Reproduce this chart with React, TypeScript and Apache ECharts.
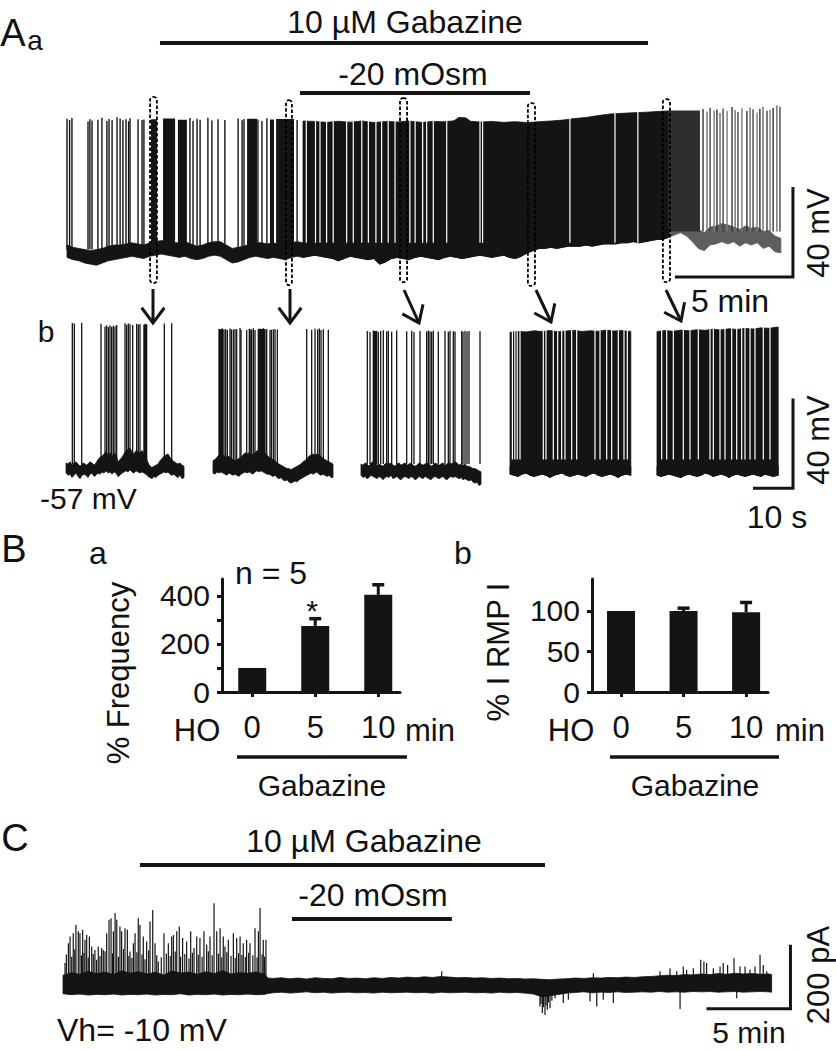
import React, { useEffect, useRef } from "react";
import * as echarts from "echarts";

const FONT = "'Liberation Sans', Arial, Helvetica, sans-serif";
const INK = "#141414";
const GRAY = "#5e5e5e";

// ---------------- Panel A a : current clamp, time (min) vs Vm (mV) ----------------
// [t, lower edge, upper edge] of baseline noise
const AA_BASE: number[][] = [
  [0, -57.5, -52], [0.25, -58.5, -53], [0.5, -59, -53.5], [0.75, -60, -54], [1, -60.5, -54.5], [1.25, -61, -54],
  [1.5, -60, -53.5], [1.75, -59, -52.5], [2, -58.5, -52], [2.25, -58, -52], [2.5, -57.5, -51.5], [2.75, -57, -51],
  [3, -57.5, -51.5], [3.25, -58, -52], [3.5, -57, -51], [3.75, -56.5, -50.5], [4, -56, -50], [4.25, -56.5, -50.5],
  [4.5, -57, -51], [4.75, -57.5, -51], [5, -57, -50.5], [5.25, -58, -51.5], [5.5, -58.5, -52.5], [5.75, -58, -52],
  [6, -57, -51], [6.25, -56.5, -50.5], [6.5, -57, -50.5], [6.75, -58.5, -52], [7, -60, -53.5], [7.25, -59.5, -53],
  [7.5, -58.5, -52.5], [7.75, -57.5, -51.5], [8, -57, -51], [8.25, -57.5, -51], [8.5, -58, -51.5], [8.75, -57.5, -51],
  [9, -58, -52], [9.25, -58.5, -52], [9.5, -57.5, -51], [9.75, -57, -50.5], [10, -57.5, -51], [10.25, -57, -50.5],
  [10.5, -56.5, -50], [10.75, -57, -50.5], [11, -57.5, -51], [11.25, -58, -51.5], [11.5, -59, -52], [11.75, -58, -51.5],
  [12, -57, -50.5], [12.25, -57.5, -51], [12.5, -58, -51.5], [12.75, -58.5, -52], [13, -58, -51.5], [13.25, -60.5, -53],
  [13.5, -59.5, -52.5], [13.75, -58, -51.5], [14, -57.5, -51], [14.25, -58, -51.5], [14.5, -58.5, -52], [14.75, -57.5, -51],
  [15, -57, -50.5], [15.25, -57.5, -51], [15.5, -58, -51.5], [15.75, -58.5, -52], [16, -57.5, -51], [16.25, -57, -50.5],
  [16.5, -57.5, -51], [16.75, -58, -51.5], [17, -57.5, -51], [17.25, -57, -51], [17.5, -56.5, -50], [17.75, -57, -50.5],
  [18, -57.5, -51], [18.25, -57, -50.5], [18.5, -56.5, -50], [18.75, -57.5, -51], [19, -58, -51.5], [19.25, -57, -50.5],
  [19.5, -55.5, -50], [19.75, -54.5, -49], [20, -53.5, -48], [20.25, -53.5, -48.5], [20.5, -53, -48], [20.75, -53.5, -48.5],
  [21, -53, -48], [21.25, -52.5, -47.5], [21.5, -52.5, -47.5], [21.75, -52.5, -47.5], [22, -52, -47], [22.25, -52.5, -47.5],
  [22.5, -52, -47], [22.75, -51.5, -46.5], [23, -51.5, -46.5], [23.25, -51.5, -46.5], [23.5, -51, -46], [23.75, -51, -46],
  [24, -50.5, -45.5], [24.25, -51, -46], [24.5, -50.5, -45.5], [24.75, -50, -45], [25, -49.5, -44.5], [25.25, -49.5, -44.5],
  [25.5, -48.5, -44], [25.75, -47.5, -41], [26, -46.5, -40], [26.25, -48, -41.5], [26.5, -50.5, -43], [26.75, -53.5, -45],
  [27, -54.5, -46.5], [27.25, -52, -44], [27.5, -51.5, -43.5], [27.75, -50.5, -42.5], [28, -51.5, -43], [28.25, -50.5, -44],
  [28.5, -52.5, -45], [28.75, -51, -43.5], [29, -52, -44.5], [29.25, -51, -44], [29.5, -53.5, -46], [29.75, -52.5, -45.5],
  [30, -55, -48], [30.25, -55.5, -49],
];
// isolated action potentials [t, peak]
const AA_SPIKES: number[][] = [
  [0.0, 4.2], [0.11, 3.6], [0.21, 4.5], [0.89, 3.0], [0.97, 4.0], [1.06, 3.4], [1.31, 3.8], [1.48, 4.6],
  [1.69, 3.2], [1.78, 4.1], [1.91, 3.7], [2.12, 4.9], [2.25, 4.3], [2.37, 3.5], [2.5, 4.0], [2.61, 3.1],
  [2.67, 4.4], [3.01, 4.0], [3.18, 3.6], [3.26, 3.9], [5.21, 4.5], [5.34, 3.3], [5.51, 4.2], [5.64, 3.8],
  [5.97, 4.6], [6.14, 3.4], [6.4, 4.0], [6.69, 3.7], [7.25, 4.3], [7.42, 3.5], [7.5, 4.1], [8.09, 3.9],
  [8.26, 3.2], [8.47, 4.4], [9.75, 3.6],
];
// high-frequency bursts [t start, t end, peak]
const AA_BURSTS: number[][] = [
  [3.56, 3.81, 4.0], [4.07, 4.58, 4.3], [4.7, 5.08, 3.8], [7.63, 8.05, 4.2], [8.6, 8.77, 3.9], [8.86, 9.62, 4.1],
];
// upper envelope of continuous firing [t, peak]
const AA_DENSE_TOP: number[][] = [
  [10.0, 3.2], [10.5, 3.0], [11.0, 2.6], [11.5, 3.1], [12.0, 2.7], [12.5, 3.2], [13.0, 2.5], [13.5, 3.0],
  [14.0, 2.8], [14.5, 3.2], [15.0, 2.6], [15.5, 3.0], [16.0, 2.9], [16.4, 3.3], [16.6, 4.8], [16.9, 4.6],
  [17.1, 3.1], [17.5, 2.8], [18.0, 3.0], [18.5, 2.6], [19.0, 2.9], [19.5, 2.5], [20.0, 2.9], [20.5, 3.2],
  [21.0, 3.6], [21.5, 4.3], [22.0, 4.8], [22.5, 5.6], [23.0, 6.3], [23.5, 6.6], [24.0, 6.9], [24.5, 7.1],
  [25.0, 7.4], [25.5, 7.7],
];
// short pauses inside continuous firing (min)
const AA_GAPS: number[] = [
  10.14, 10.53, 10.72, 11.0, 11.28, 11.85, 12.13, 12.49, 12.77, 13.09, 13.33, 13.61, 13.9, 14.53, 14.75,
  15.07, 15.24, 15.52, 16.09, 17.5, 17.61, 21.31, 23.22, 24.19,
];
const AA_WASH_BLOCK: number[][] = [[25.5, 26.82, 7.9]];
const AA_WASH_SPIKES: number[][] = [
  [26.95, 8.6], [27.12, 7.4], [27.25, 9.1], [27.42, 7.9], [27.54, 8.3], [27.67, 6.8], [27.8, 8.8], [27.97, 7.6],
  [28.18, 9.4], [28.31, 8.1], [28.43, 7.2], [28.6, 8.9], [28.81, 7.7], [28.94, 9.2], [29.07, 8.4], [29.24, 7.0],
  [29.36, 8.7], [29.49, 9.6], [29.66, 7.8], [29.79, 8.2], [29.92, 9.0], [30.08, 10.2], [30.21, 9.5],
];
// sampled windows shown in A b [t0, t1, top, bottom]
const AA_BOXES: number[][] = [
  [3.52, 3.81, 13.9, -68.9], [9.28, 9.53, 12.5, -69.8], [14.11, 14.41, 13.4, -68.5],
  [19.53, 19.83, 11.2, -70.2], [25.25, 25.55, 12.9, -68.5],
];
const AA_GABAZINE = [3.94, 24.62];
const AA_OSM = [9.87, 19.62];
const AA_SCALE = [25.76, 30.76, -66.2, -26.2]; // 5 min, 40 mV

// ---------------- Panel A b : 30-s excerpts (s vs mV) ----------------
const B1_BASE: number[][] = [
  [0, -60, -55.5], [0.5, -61, -56], [1, -60.5, -55], [1.5, -62, -56.5], [2, -61, -55.5], [2.5, -60, -55],
  [3, -61.5, -56], [3.5, -62.5, -57], [4, -61, -56], [4.5, -60.5, -55.5], [5, -61, -56.5], [5.5, -62, -56],
  [6, -60.5, -55], [6.5, -60, -55.5], [7, -61.5, -56.5], [7.5, -61, -55.5], [8, -60, -54], [8.5, -60.5, -53],
  [9, -59.5, -52.5], [9.5, -60, -51.5], [10, -59, -50.5], [10.5, -60, -52], [11, -59.5, -51], [11.5, -60.5, -52.5],
  [12, -59.5, -51], [12.5, -60, -52], [13, -61.5, -55], [13.5, -61, -54], [14, -60, -53], [14.5, -59.5, -51.5],
  [15, -59, -50], [15.5, -59.5, -49.5], [16, -58.5, -49], [16.5, -59.5, -50.5], [17, -60, -51.5], [17.5, -59, -50],
  [18, -59.5, -50.5], [18.5, -60, -51], [19, -59.5, -50], [19.5, -60, -51.5], [20, -60.5, -53], [20.5, -61.5, -55.5],
  [21, -62, -57], [21.5, -62.5, -57.5], [22, -61.5, -57], [22.5, -62, -56.5], [23, -61, -56], [23.5, -60.5, -54.5],
  [24, -60, -53.5], [24.5, -59.5, -52.5], [25, -60, -52], [25.5, -59.5, -51.5], [26, -60.5, -53], [26.5, -61, -54],
  [27, -60.5, -55], [27.5, -61.5, -55.5], [28, -62, -56], [28.5, -61, -55.5], [29, -62.5, -56.5], [29.5, -62, -57],
];
const B1_SPIKES: number[][] = [
  [1.58, 6.8], [2.08, 6.5], [3.92, 6.9], [8.75, 6.4], [9.75, 5.2], [10.17, 5.6], [10.58, 5.0], [11.0, 5.8],
  [11.42, 5.1], [11.83, 5.5], [12.25, 5.3], [12.67, 5.9], [14.75, 6.6], [15.17, 6.0], [15.58, 6.5], [16.0, 6.2],
  [16.67, 5.9], [17.67, 6.4], [18.08, 6.1], [18.5, 6.3], [19.5, 6.0], [19.75, 6.4], [20.17, 6.2], [24.58, 6.5],
  [26.42, 6.7],
];
const B1_BURSTS: number[][] = [[19.45, 20.2, 6.0]];

const B2_BASE: number[][] = [
  [0, -60, -54.5], [0.5, -60.5, -54], [1, -59.5, -53], [1.5, -60, -52], [2, -59.5, -51.5], [2.5, -60, -52],
  [3, -60.5, -52.5], [3.5, -61, -53], [4, -60, -52.5], [4.5, -60.5, -53.5], [5, -61, -54], [5.5, -60.5, -54.5],
  [6, -61, -54], [6.5, -61.5, -53.5], [7, -60.5, -53], [7.5, -60, -52], [8, -59.5, -51], [8.5, -60, -51.5],
  [9, -59.5, -51], [9.5, -60, -51.5], [10, -60.5, -52], [10.5, -59.5, -51], [11, -59, -50], [11.5, -59.5, -50.5],
  [12, -59, -50], [12.5, -59.5, -50.5], [13, -60, -51], [13.5, -60.5, -52], [14, -60.5, -53], [14.5, -61, -53.5],
  [15, -61.5, -54], [15.5, -61, -54.5], [16, -62, -55.5], [16.5, -62.5, -56], [17, -62, -56.5], [17.5, -63, -57],
  [18, -63.5, -57.5], [18.5, -63, -58], [19, -64, -58], [19.5, -64.5, -58.5], [20, -64, -58], [20.5, -63.5, -57.5],
  [21, -64, -57], [21.5, -63, -56.5], [22, -62.5, -56], [22.5, -62, -55], [23, -61.5, -54.5], [23.5, -61, -53.5],
  [24, -60.5, -52.5], [24.5, -60, -52], [25, -60.5, -51.5], [25.5, -60, -52], [26, -59.5, -51.5], [26.5, -60.5, -52],
  [27, -61, -52.5], [27.5, -60.5, -53.5], [28, -61, -54], [28.5, -61.5, -54.5], [29, -61, -55], [29.5, -62, -55.5],
  [30, -62, -56],
];
const B2_SPIKES: number[][] = [
  [1.5, 4.2], [1.92, 3.8], [2.33, 4.4], [2.75, 3.9], [3.17, 4.1], [3.58, 3.6], [4.25, 4.3], [4.6, 3.9],
  [5.08, 3.9], [5.5, 4.1], [5.92, 4.0], [6.75, 4.5], [7.0, 3.8], [8.42, 3.7], [9.08, 4.2], [9.3, 4.0],
  [9.67, 3.9], [10.08, 4.4], [10.5, 3.6], [11.33, 4.0], [11.75, 4.3], [12.17, 3.8], [12.58, 4.4], [13.0, 3.9],
  [13.42, 4.1], [14.25, 3.7], [14.6, 3.8], [15.08, 4.0], [15.5, 4.0], [16.08, 3.9], [23.42, 4.1], [24.67, 3.8],
  [25.5, 4.2], [26.17, 3.9], [26.58, 4.3], [27.0, 3.7], [27.58, 4.0], [28.83, 3.8],
];
const B2_BURSTS: number[][] = [[1.5, 2.6, 4.0], [11.3, 13.0, 4.1]];

const B3_BASE: number[][] = [
  [0, -61, -56], [0.5, -62, -56.5], [1, -61.5, -55.5], [1.5, -62.5, -56], [2, -62, -57], [2.5, -61, -55.5],
  [3, -61.5, -55], [3.5, -62, -55.5], [4, -62.5, -56.5], [4.5, -61.5, -56], [5, -62, -56.5], [5.5, -63, -57],
  [6, -62, -56], [6.5, -61.5, -55.5], [7, -62, -56], [7.5, -61, -55.5], [8, -62.5, -56.5], [8.5, -62, -57],
  [9, -61.5, -56], [9.5, -62.5, -55.5], [10, -63, -56.5], [10.5, -62, -56], [11, -61.5, -55.5], [11.5, -62, -56.5],
  [12, -62.5, -56], [12.5, -61.5, -55.5], [13, -62, -56.5], [13.5, -63, -57], [14, -62.5, -56.5], [14.5, -61.5, -55.5],
  [15, -62, -56], [15.5, -62.5, -56.5], [16, -61.5, -56], [16.5, -62, -55.5], [17, -62.5, -56], [17.5, -63, -57],
  [18, -62, -56.5], [18.5, -61.5, -55.5], [19, -62, -56], [19.5, -62.5, -56.5], [20, -62, -56], [20.5, -61.5, -55.5],
  [21, -62.5, -56.5], [21.5, -63, -56], [22, -62, -55.5], [22.5, -61.5, -56], [23, -62, -55.5], [23.5, -61.5, -55],
  [24, -62, -55.5], [24.5, -62.5, -56.5], [25, -62, -56], [25.5, -63, -56.5], [26, -62.5, -56], [26.5, -63, -57],
  [27, -63.5, -57], [27.5, -63, -57.5], [28, -64, -58], [28.5, -64.5, -58], [29, -64, -58.5], [29.5, -65.5, -59],
  [30, -65, -59.5],
];
const B3_SPIKES: number[][] = [
  [1.58, 3.2], [2.25, 2.8], [3.08, 3.4], [3.5, 3.0], [3.92, 3.3], [4.33, 2.9], [4.92, 3.2], [5.58, 3.5],
  [6.42, 3.0], [6.83, 3.3], [7.67, 2.9], [8.92, 3.4], [11.42, 3.1], [12.67, 3.3], [13.25, 2.8], [14.75, 3.2],
  [16.42, 3.0], [16.83, 3.4], [17.25, 3.1], [17.67, 2.9], [18.08, 3.3], [19.33, 3.0], [21.0, 3.2], [21.83, 2.9],
  [22.25, 3.3], [23.08, 3.1], [23.5, 3.0], [25.17, 3.2], [25.5, 2.9], [26.0, 3.3], [26.5, 3.0], [27.0, 3.2],
  [29.75, 3.1],
];
const B3_BURSTS: number[][] = [[3.0, 3.9, 3.2]];

const B4_BASE: number[][] = [
  [0, -60.5, -57], [1, -61, -57.5], [2, -61.5, -57], [3, -60.5, -56.5], [4, -60, -56.5], [5, -61, -57],
  [6, -61.5, -57.5], [7, -61, -57], [8, -60.5, -56.5], [9, -61, -57], [10, -62, -57.5], [11, -61, -57],
  [12, -60.5, -56.5], [13, -60, -56], [14, -61, -57], [15, -61.5, -57.5], [16, -61, -57], [17, -60.5, -56.5],
  [18, -61, -57], [19, -61.5, -57], [20, -60.5, -56.5], [21, -60, -56.5], [22, -61, -57], [23, -61.5, -57.5],
  [24, -61, -57], [25, -60.5, -56.5], [26, -61, -57], [27, -62, -57.5], [28, -61, -57], [29, -60.5, -56.5],
  [30.2, -61, -57],
];
const B4_TOP: number[][] = [
  [0, 2.6], [2, 3.1], [4, 2.8], [6, 3.3], [8, 3.0], [10, 3.4], [12, 2.9], [14, 3.2], [16, 3.5], [18, 3.0],
  [20, 3.3], [22, 3.1], [24, 3.6], [26, 3.2], [28, 3.4], [30.2, 3.0],
];
const B4_GAPS: number[] = [
  0.6, 1.2, 1.8, 2.5, 8.33, 9.0, 10.83, 11.92, 12.92, 13.75, 15.42, 16.67, 21.25, 22.5, 24.17, 25.42, 27.08, 28.5, 29.33,
];

const B5_BASE: number[][] = [
  [0, -61, -57], [1, -61.5, -57.5], [2, -61, -57], [3, -60.5, -56.5], [4, -61, -57], [5, -61.5, -57],
  [6, -62, -57.5], [7, -61, -57], [8, -60.5, -56.5], [9, -61, -57], [10, -61.5, -57.5], [11, -61, -57],
  [12, -60, -56.5], [13, -60.5, -56.5], [14, -61.5, -57], [15, -61, -57], [16, -60.5, -56.5], [17, -61, -57.5],
  [18, -62, -57.5], [19, -61, -57], [20, -60.5, -56.5], [21, -61, -57], [22, -61.5, -57], [23, -61, -57.5],
  [24, -60.5, -56.5], [25, -61, -57], [26, -61.5, -57.5], [27, -60.5, -56.5], [28, -61, -57], [29, -61.5, -57.5],
  [30.3, -61, -57],
];
const B5_TOP: number[][] = [
  [0, 3.0], [2, 3.4], [4, 3.1], [6, 3.6], [8, 3.3], [10, 3.8], [12, 3.5], [14, 4.0], [16, 3.7], [18, 4.2],
  [20, 3.9], [22, 4.4], [24, 4.1], [26, 4.6], [28, 4.4], [30.3, 5.0],
];
const B5_GAPS: number[] = [
  1.17, 2.42, 4.08, 6.58, 8.25, 10.33, 13.25, 14.08, 15.75, 17.0, 18.67, 19.92, 21.17, 22.0, 23.25, 24.5, 26.58, 28.25,
];
const AB_SCALE = [24, 34, -66.8, -26.8]; // 10 s, 40 mV

// ---------------- Panel B : summary bars ----------------
const B_CATS = ["0", "5", "10"];
const B_POS = [0, 1, 2];
const FREQ_MEAN = [100, 275, 404];
const FREQ_SEM = [0, 30, 42];
const RMP_MEAN = [100, 100, 98.5];
const RMP_SEM = [0, 3.5, 12];

// ---------------- Panel C : voltage clamp, time (min) vs current (pA) ----------------
const C_BASE: number[][] = [
  [0, -28, 30], [0.5, -31, 38], [1, -29, 33], [1.5, -32, 42], [2, -30, 35], [2.5, -31, 40], [3, -29, 32],
  [3.5, -32, 44], [4, -30, 36], [4.5, -31, 41], [5, -29, 34], [5.5, -32, 39], [6, -30, 31], [6.5, -31, 43],
  [7, -28, 37], [7.5, -32, 40], [8, -30, 33], [8.5, -31, 41], [9, -29, 35], [9.5, -32, 44], [10, -30, 34],
  [10.5, -31, 38], [11, -29, 36], [11.5, -31, 40], [12, -30, 33], [12.2, -27, 21],
  [12.5, -25, 20], [13, -23, 22], [13.5, -26, 19], [14, -24, 21], [14.5, -22, 18], [15, -25, 22], [15.5, -23, 20],
  [16, -26, 19], [16.5, -24, 23], [17, -23, 20], [17.5, -25, 21], [18, -24, 19], [18.5, -26, 22], [19, -23, 20],
  [19.5, -25, 23], [20, -24, 21], [20.5, -23, 24], [21, -25, 22], [21.5, -24, 25], [22, -26, 23], [22.5, -23, 26],
  [23, -25, 24], [23.5, -24, 22], [24, -23, 23], [24.5, -25, 21], [25, -24, 22], [25.5, -26, 20], [26, -23, 21],
  [26.5, -25, 19], [27, -24, 20], [27.5, -26, 18], [28, -29, 19], [28.5, -37, 17], [29, -34, 16], [29.5, -30, 18],
  [30, -26, 19], [30.5, -24, 21], [31, -22, 20], [31.5, -25, 22], [32, -23, 21], [32.5, -24, 23], [33, -22, 22],
  [33.5, -24, 24], [34, -23, 23], [34.5, -22, 25], [35, -23, 26], [35.5, -21, 28], [36, -23, 30], [36.5, -22, 29],
  [37, -23, 32], [37.5, -21, 31], [38, -22, 34], [38.5, -21, 32], [39, -23, 35], [39.5, -22, 33], [40, -21, 36],
  [40.5, -23, 34], [41, -22, 35], [41.5, -21, 33], [42, -22, 34], [42.18, -23, 32],
];
const C_UP: number[][] = [
  [0.12, 68], [0.2, 95], [0.32, 130], [0.42, 151], [0.52, 88], [0.61, 161], [0.7, 110], [0.77, 187], [0.91, 167],
  [1.01, 161], [1.1, 92], [1.17, 172], [1.25, 100], [1.31, 141], [1.41, 156], [1.5, 85], [1.57, 151], [1.71, 120],
  [1.8, 96], [1.9, 109], [2.0, 78], [2.1, 120], [2.2, 90], [2.3, 115], [2.4, 109], [2.5, 105], [2.6, 161],
  [2.74, 203], [2.86, 208], [2.95, 98], [3.0, 167], [3.1, 224], [3.2, 203], [3.3, 88], [3.39, 182], [3.49, 167],
  [3.6, 112], [3.69, 177], [3.83, 172], [3.92, 90], [3.99, 104], [4.1, 84], [4.19, 130], [4.29, 161], [4.4, 102],
  [4.48, 208], [4.58, 187], [4.7, 95], [4.78, 151], [4.88, 80], [4.98, 135], [5.1, 108], [5.18, 198], [5.34, 234],
  [5.48, 130], [5.58, 92], [5.67, 73], [5.85, 86], [6.01, 161], [6.15, 98], [6.27, 130], [6.38, 90], [6.47, 151],
  [6.57, 156], [6.68, 104], [6.77, 167], [6.92, 182], [7.0, 88], [7.12, 146], [7.25, 96], [7.36, 135], [7.5, 82],
  [7.6, 167], [7.7, 100], [7.8, 115], [7.96, 151], [8.05, 94], [8.15, 146], [8.28, 88], [8.39, 167], [8.55, 125],
  [8.65, 105], [8.75, 151], [8.88, 92], [8.99, 255], [9.15, 167], [9.25, 97], [9.35, 177], [9.45, 86], [9.54, 151],
  [9.64, 120], [9.75, 102], [9.84, 141], [10.0, 90], [10.14, 161], [10.25, 84], [10.34, 146], [10.45, 99],
  [10.54, 151], [10.65, 93], [10.73, 130], [10.85, 87], [10.93, 141], [11.05, 100], [11.13, 130], [11.3, 92],
  [11.43, 177], [11.55, 85], [11.63, 167], [11.73, 240], [11.85, 95], [11.92, 141], [12.0, 88], [12.08, 141],
  [22.54, 42], [31.57, 36], [35.54, 42], [36.13, 52], [36.53, 42], [36.92, 57], [37.12, 47], [37.52, 52],
  [37.96, 78], [38.15, 73], [38.31, 68], [38.71, 52], [39.11, 57], [39.3, 68], [39.56, 62], [39.94, 83],
  [40.3, 57], [40.6, 57], [40.89, 47], [41.19, 57], [41.49, 94], [41.68, 62], [41.89, 42],
];
const C_DOWN: number[][] = [
  [28.39, -68], [28.45, -60], [28.53, -88], [28.6, -70], [28.69, -94], [28.75, -65], [28.83, -78], [28.9, -55],
  [28.99, -73], [29.1, -50], [29.29, -42], [29.78, -57], [30.08, -47], [31.37, -52], [31.77, -68], [32.16, -47],
  [32.76, -57], [36.73, -76], [40.1, -42],
];
const C_GABAZINE = [4.58, 28.69];
const C_OSM = [13.63, 23.15];
const C_SCALE = [38.3, 43.3, -75, 125]; // 5 min, 200 pA

// ---------------- helpers ----------------
const empty = { type: "group", children: [] };

function bandPoints(base: number[][]) {
  return base.map((r) => [r[0], r[2]]).concat(base.slice().reverse().map((r) => [r[0], r[1]]));
}
function densePoints(top: number[][], base: number[][]) {
  const t0 = top[0][0] - 1e-6;
  const t1 = top[top.length - 1][0] + 1e-6;
  const low = base.filter((r) => r[0] >= t0 && r[0] <= t1).reverse().map((r) => [r[0], r[1]]);
  return top.concat(low);
}
function polygonSeries(g: number, pts: number[][], color: string, z: number) {
  return {
    type: "custom", xAxisIndex: g, yAxisIndex: g, z, silent: true, data: pts,
    renderItem: (p: any, api: any) =>
      p.dataIndex === 0
        ? { type: "polygon", shape: { points: pts.map((q) => api.coord(q)) }, style: { fill: color, stroke: color, lineWidth: 0.8 } }
        : empty,
  };
}
function vlineSeries(g: number, items: number[][], floor: number, colors: string[], width: number, z: number) {
  return {
    type: "custom", xAxisIndex: g, yAxisIndex: g, z, silent: true, data: items,
    renderItem: (p: any, api: any) => {
      const t = api.value(0);
      const a = api.coord([t, floor]);
      const b = api.coord([t, api.value(1)]);
      return { type: "line", shape: { x1: a[0], y1: a[1], x2: b[0], y2: b[1] }, style: { stroke: colors[p.dataIndex % colors.length], lineWidth: width } };
    },
  };
}
function blockSeries(g: number, items: number[][], floor: number, color: string, z: number) {
  return {
    type: "custom", xAxisIndex: g, yAxisIndex: g, z, silent: true, data: items,
    renderItem: (p: any, api: any) => {
      const a = api.coord([api.value(0), floor]);
      const b = api.coord([api.value(1), api.value(2)]);
      return { type: "rect", shape: { x: a[0], y: b[1], width: b[0] - a[0], height: a[1] - b[1] }, style: { fill: color } };
    },
  };
}
function boxSeries(g: number, items: number[][]) {
  return {
    type: "custom", xAxisIndex: g, yAxisIndex: g, z: 8, silent: true, data: items,
    renderItem: (p: any, api: any) => {
      const a = api.coord([api.value(0), api.value(3)]);
      const b = api.coord([api.value(1), api.value(2)]);
      return {
        type: "rect", shape: { x: a[0], y: b[1], width: b[0] - a[0], height: a[1] - b[1], r: 3 },
        style: { fill: "none", stroke: "#000", lineWidth: 1.8, lineDash: [3.5, 2] },
      };
    },
  };
}
function treatSeries(g: number, span: number[], py: number) {
  return {
    type: "custom", xAxisIndex: g, yAxisIndex: g, z: 8, silent: true, clip: false, data: [span],
    renderItem: (p: any, api: any) => {
      const x0 = api.coord([api.value(0), 0])[0];
      const x1 = api.coord([api.value(1), 0])[0];
      return { type: "line", shape: { x1: x0, y1: py, x2: x1, y2: py }, style: { stroke: INK, lineWidth: 4 } };
    },
  };
}
function scaleSeries(g: number, s: number[]) {
  return {
    type: "custom", xAxisIndex: g, yAxisIndex: g, z: 8, silent: true, clip: false, data: [s],
    renderItem: (p: any, api: any) => {
      const a = api.coord([api.value(0), api.value(2)]);
      const b = api.coord([api.value(1), api.value(2)]);
      const c = api.coord([api.value(1), api.value(3)]);
      return { type: "polyline", shape: { points: [a, b, c] }, style: { stroke: INK, lineWidth: 3, fill: "none" } };
    },
  };
}
function errSeries(g: number, mean: number[], sem: number[]) {
  return {
    type: "custom", xAxisIndex: g, yAxisIndex: g, z: 5, silent: true,
    data: B_POS.map((x, i) => [x, mean[i], sem[i]]),
    renderItem: (p: any, api: any) => {
      if (api.value(2) <= 0) return empty;
      const a = api.coord([api.value(0), api.value(1)]);
      const b = api.coord([api.value(0), api.value(1) + api.value(2)]);
      return {
        type: "group",
        children: [
          { type: "line", shape: { x1: a[0], y1: a[1], x2: b[0], y2: b[1] }, style: { stroke: INK, lineWidth: 3 } },
          { type: "line", shape: { x1: b[0] - 6, y1: b[1], x2: b[0] + 6, y2: b[1] }, style: { stroke: INK, lineWidth: 3.5 } },
        ],
      };
    },
  };
}

function txt(text: string, x: number, y: number, size: number, align = "center", rot = 0) {
  return {
    type: "text", x, y, rotation: rot, z: 20,
    style: { text, fontSize: size, fontFamily: FONT, fill: "#111", textAlign: align, textVerticalAlign: "middle", align, verticalAlign: "middle" },
  };
}
function hline(x1: number, x2: number, y: number, w = 3) {
  return { type: "line", z: 20, shape: { x1, y1: y, x2, y2: y }, style: { stroke: INK, lineWidth: w } };
}
function arrow(x1: number, y1: number, x2: number, y2: number) {
  const dx = x2 - x1, dy = y2 - y1, L = Math.hypot(dx, dy);
  const ux = dx / L, uy = dy / L, h = 19, a = 0.64;
  const arm = (s: number) => [x2 - h * (ux * Math.cos(s) - uy * Math.sin(s)), y2 - h * (ux * Math.sin(s) + uy * Math.cos(s))];
  return [
    { type: "line", z: 20, shape: { x1, y1, x2, y2 }, style: { stroke: INK, lineWidth: 3 } },
    { type: "polyline", z: 20, shape: { points: [arm(a), [x2, y2], arm(-a)] }, style: { stroke: INK, lineWidth: 3, fill: "none" } },
  ];
}

function traceAxes(g: number, xmin: number, xmax: number, ymin: number, ymax: number) {
  return {
    x: { type: "value", gridIndex: g, min: xmin, max: xmax, show: false },
    y: { type: "value", gridIndex: g, min: ymin, max: ymax, show: false },
  };
}

function barAxes(g: number, xmin: number, xmax: number, ymax: number, ticks: number[], labels: number[]) {
  const axisLine = { show: true, onZero: false, lineStyle: { color: INK, width: 3 } };
  return {
    x: {
      type: "value", gridIndex: g, min: xmin, max: xmax, axisLine,
      axisTick: { show: true, customValues: B_POS, length: 5, lineStyle: { color: INK, width: 3 } },
      axisLabel: {
        show: true, customValues: B_POS, margin: 20, fontSize: 31, fontFamily: FONT, color: "#111",
        formatter: (v: number) => B_CATS[Math.round(v)] ?? "",
      },
      splitLine: { show: false },
    },
    y: {
      type: "value", gridIndex: g, min: 0, max: ymax, axisLine,
      axisTick: { show: true, customValues: ticks, length: 5, lineStyle: { color: INK, width: 3 } },
      axisLabel: { show: true, customValues: labels, margin: 12, fontSize: 30, fontFamily: FONT, color: "#111" },
      splitLine: { show: false },
    },
  };
}

function buildOption() {
  const grids = [
    { left: 67, top: 90, width: 731.6, height: 200 },
    { left: 66, top: 300, width: 120, height: 200 },
    { left: 213, top: 300, width: 120, height: 200 },
    { left: 361, top: 300, width: 120, height: 200 },
    { left: 510, top: 300, width: 120, height: 200 },
    { left: 657, top: 300, width: 138, height: 200 },
    { left: 222, top: 579, width: 178, height: 113 },
    { left: 592, top: 579, width: 176, height: 113 },
    { left: 63, top: 892, width: 739.2, height: 128 },
  ].map((g) => ({ ...g, outerBoundsMode: "none", containLabel: false, show: false }));

  const axes = [
    traceAxes(0, 0, 31, -72, 17),
    traceAxes(1, 0, 30, -72, 17),
    traceAxes(2, 0, 30, -72, 17),
    traceAxes(3, 0, 30, -72, 17),
    traceAxes(4, 0, 30, -72, 17),
    traceAxes(5, 0, 34.5, -72, 17),
    barAxes(6, -0.48, 2.345, 470, [0, 100, 200, 300, 400], [0, 200, 400]),
    barAxes(7, -0.464, 2.35, 139.5, [0, 50, 100], [0, 50, 100]),
    traceAxes(8, 0, 44, -110, 290),
  ];

  const series: any[] = [];
  // ---- A a
  series.push(polygonSeries(0, bandPoints(AA_BASE.filter((r) => r[0] <= 25.5)), INK, 2));
  series.push(polygonSeries(0, bandPoints(AA_BASE.filter((r) => r[0] >= 25.5)), GRAY, 2));
  series.push(polygonSeries(0, densePoints(AA_DENSE_TOP, AA_BASE), INK, 3));
  series.push(blockSeries(0, AA_BURSTS, -54, INK, 3));
  series.push(blockSeries(0, AA_WASH_BLOCK, -46, "#2e2e2e", 3));
  series.push(vlineSeries(0, AA_SPIKES, -54, [INK], 1.4, 4));
  series.push(vlineSeries(0, AA_WASH_SPIKES, -46, ["#333", "#6a6a6a", "#444", "#7a7a7a"], 1.4, 4));
  series.push(vlineSeries(0, AA_GAPS.map((t) => [t, 10]), -51, ["#ffffff"], 1.2, 5));
  series.push(boxSeries(0, AA_BOXES));
  series.push(treatSeries(0, AA_GABAZINE, 43));
  series.push(treatSeries(0, AA_OSM, 93));
  series.push(scaleSeries(0, AA_SCALE));

  // ---- A b
  const sparse = [
    { g: 1, base: B1_BASE, spikes: B1_SPIKES, bursts: B1_BURSTS },
    { g: 2, base: B2_BASE, spikes: B2_SPIKES, bursts: B2_BURSTS },
    { g: 3, base: B3_BASE, spikes: B3_SPIKES, bursts: B3_BURSTS },
  ];
  sparse.forEach((tr) => {
    series.push(polygonSeries(tr.g, bandPoints(tr.base), INK, 2));
    series.push(blockSeries(tr.g, tr.bursts, -56, INK, 3));
    series.push(vlineSeries(tr.g, tr.spikes, -56, [INK], 1.3, 4));
  });
  const dense = [
    { g: 4, base: B4_BASE, top: B4_TOP, gaps: B4_GAPS },
    { g: 5, base: B5_BASE, top: B5_TOP, gaps: B5_GAPS },
  ];
  dense.forEach((tr) => {
    series.push(polygonSeries(tr.g, bandPoints(tr.base), INK, 2));
    series.push(polygonSeries(tr.g, densePoints(tr.top, tr.base), INK, 3));
    series.push(vlineSeries(tr.g, tr.gaps.map((t) => [t, 10]), -54, ["#ffffff"], 1.2, 5));
  });
  series.push(scaleSeries(5, AB_SCALE));

  // ---- B bars
  series.push({
    type: "bar", xAxisIndex: 6, yAxisIndex: 6, barWidth: 28, z: 3, silent: true,
    data: B_POS.map((x, i) => [x, FREQ_MEAN[i]]), itemStyle: { color: INK },
  });
  series.push(errSeries(6, FREQ_MEAN, FREQ_SEM));
  series.push({
    type: "bar", xAxisIndex: 7, yAxisIndex: 7, barWidth: 28, z: 3, silent: true,
    data: B_POS.map((x, i) => [x, RMP_MEAN[i]]), itemStyle: { color: INK },
  });
  series.push(errSeries(7, RMP_MEAN, RMP_SEM));

  // ---- C
  series.push(polygonSeries(8, bandPoints(C_BASE), INK, 2));
  series.push(vlineSeries(8, C_UP, 15, [INK], 1.2, 4));
  series.push(vlineSeries(8, C_DOWN, -18, [INK], 1.2, 4));
  series.push(treatSeries(8, C_GABAZINE, 865));
  series.push(treatSeries(8, C_OSM, 919));
  series.push(scaleSeries(8, C_SCALE));

  const R = Math.PI / 2;
  const graphic: any[] = [
    // panel A
    txt("A", 13, 33, 38),
    txt("a", 35, 40, 28),
    txt("10 µM Gabazine", 405, 22, 32),
    txt("-20 mOsm", 413, 74, 32),
    txt("40 mV", 818, 233, 31, "center", R),
    txt("5 min", 730, 301, 32),
    ...arrow(153, 289, 153, 323),
    ...arrow(290, 289, 290, 323),
    ...arrow(404, 290, 419, 323),
    ...arrow(536, 290, 551, 322),
    ...arrow(666, 290, 681, 321),
    txt("b", 46, 331, 30),
    txt("-57 mV", 40, 498, 30, "left"),
    txt("40 mV", 818, 440, 31, "center", R),
    txt("10 s", 777, 517, 32),
    // panel B
    txt("B", 14, 549, 38),
    txt("a", 98, 553, 32),
    txt("b", 463, 553, 32),
    txt("n = 5", 271, 573, 32),
    txt("*", 312, 610, 30),
    txt("% Frequency", 118, 673, 31, "center", R),
    txt("HO", 197, 730, 31),
    txt("min", 430, 730, 31),
    hline(237, 407, 757, 3.5),
    txt("Gabazine", 322, 785, 30),
    txt("% I RMP I", 498, 652, 31, "center", R),
    txt("HO", 571, 730, 31),
    txt("min", 800, 730, 31),
    hline(610, 779, 757, 3.5),
    txt("Gabazine", 695, 785, 30),
    // panel C
    txt("C", 15, 838, 38),
    txt("10 µM Gabazine", 364, 841, 32),
    txt("-20 mOsm", 373, 895, 32),
    txt("200 pA", 818, 975, 31, "center", R),
    txt("5 min", 749, 1032, 30),
    txt("Vh= -10 mV", 57, 1030, 32, "left"),
  ];

  return {
    animation: false,
    backgroundColor: "#ffffff",
    textStyle: { fontFamily: FONT },
    grid: grids,
    xAxis: axes.map((a) => a.x),
    yAxis: axes.map((a) => a.y),
    series,
    graphic,
  };
}

export default function App() {
  const ref = useRef<HTMLDivElement>(null);
  useEffect(() => {
    const chart = echarts.init(ref.current as HTMLDivElement, null, { renderer: "svg", width: 836, height: 1050 });
    chart.setOption(buildOption() as any);
    return () => chart.dispose();
  }, []);
  return (
    <div
      ref={ref}
      style={{ position: "absolute", left: 0, top: 0, width: 836, height: 1050, background: "#fff" }}
    />
  );
}
